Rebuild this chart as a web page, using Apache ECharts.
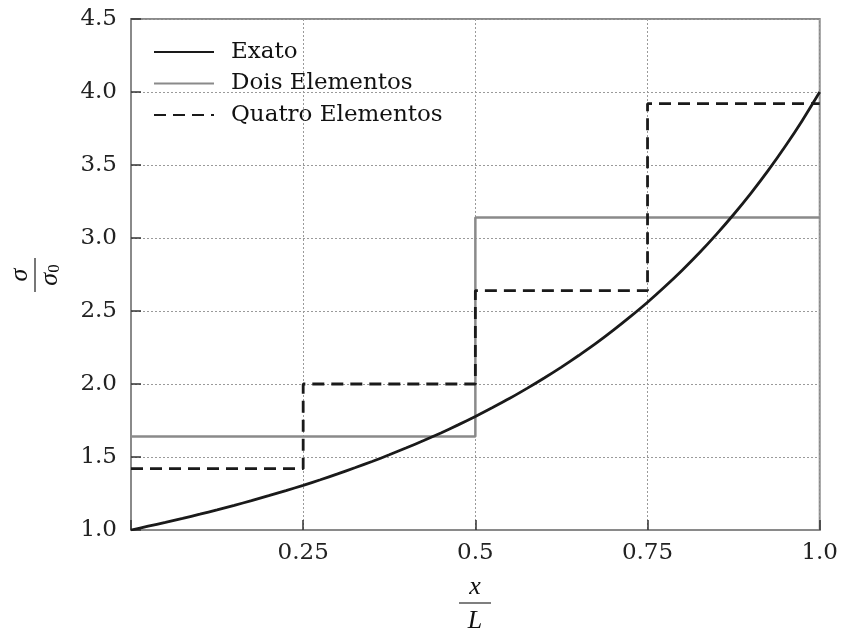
<!DOCTYPE html>
<html>
<head>
<meta charset="utf-8">
<script src="https://cdn.jsdelivr.net/npm/echarts@6/dist/echarts.min.js"></script>
<style>
  html, body { margin: 0; padding: 0; background: #fff; }
  #chart { width: 841px; height: 633px; }
</style>
</head>
<body>
<div id="chart"></div>
<script>
// Exact stress distribution along the bar, sigma/sigma0 versus x/L
const exactX = [0, 0.025, 0.05, 0.075, 0.1, 0.125, 0.15, 0.175, 0.2, 0.225, 0.25,
                0.275, 0.3, 0.325, 0.35, 0.375, 0.4, 0.425, 0.45, 0.475, 0.5,
                0.525, 0.55, 0.575, 0.6, 0.625, 0.65, 0.675, 0.7, 0.725, 0.75,
                0.775, 0.8, 0.825, 0.85, 0.875, 0.9, 0.925, 0.95, 0.975, 1.0];
const exactY = [1.000, 1.026, 1.052, 1.079, 1.108, 1.138, 1.169, 1.201, 1.235, 1.270, 1.306,
                1.344, 1.384, 1.426, 1.469, 1.515, 1.563, 1.613, 1.665, 1.720, 1.778,
                1.839, 1.902, 1.970, 2.041, 2.116, 2.195, 2.278, 2.367, 2.461, 2.560,
                2.666, 2.778, 2.897, 3.025, 3.161, 3.306, 3.461, 3.628, 3.807, 4.000];

// Element boundaries and constant stress per element
const twoEdges = [0, 0.5, 1.0];
const twoStress = [1.64, 3.14];
const fourEdges = [0, 0.25, 0.5, 0.75, 1.0];
const fourStress = [1.42, 2.00, 2.64, 3.92];

const yTicks = [1.0, 1.5, 2.0, 2.5, 3.0, 3.5, 4.0, 4.5];
const xTickLabels = { 0.25: '0.25', 0.5: '0.5', 0.75: '0.75', 1: '1.0' };

const seriesNames = ['Exato', 'Dois Elementos', 'Quatro Elementos'];

// piecewise-constant path: horizontal run on each element, vertical jump between
function stepPath(edges, levels) {
  const pts = [];
  for (let i = 0; i < levels.length; i++) {
    pts.push([edges[i], levels[i]]);
    pts.push([edges[i + 1], levels[i]]);
  }
  return pts;
}

const exactData = exactX.map((x, i) => [x, exactY[i]]);

const serif = '"DejaVu Serif", "Liberation Serif", serif';
const chart = echarts.init(document.getElementById('chart'), null, { renderer: 'canvas' });

chart.setOption({
  backgroundColor: '#fff',
  animation: false,
  grid: {
    left: 131, right: 20, top: 19, bottom: 103,
    show: true, borderColor: '#8a8a8a', borderWidth: 2, backgroundColor: 'transparent'
  },
  legend: {
    left: 148, top: 35,
    orient: 'vertical',
    itemWidth: 60, itemHeight: 14, itemGap: 7.5,
    itemStyle: { opacity: 0 },
    textStyle: { fontFamily: serif, fontSize: 23, lineHeight: 24, color: '#111', padding: [0, 0, 0, 12] },
    data: seriesNames
  },
  xAxis: {
    type: 'value', min: 0, max: 1, interval: 0.25,
    axisLine: { show: true, lineStyle: { color: '#8a8a8a', width: 2 } },
    axisTick: { show: true, inside: true, length: 10, lineStyle: { color: '#333', width: 1.5 } },
    axisLabel: {
      margin: 12, fontFamily: serif, fontSize: 23, color: '#222',
      formatter: v => xTickLabels[v] || ''
    },
    splitLine: { show: true, lineStyle: { color: '#9a9a9a', width: 1, type: [2, 2] } }
  },
  yAxis: {
    type: 'value', min: yTicks[0], max: yTicks[yTicks.length - 1], interval: 0.5,
    axisLine: { show: true, lineStyle: { color: '#8a8a8a', width: 2 } },
    axisTick: { show: true, inside: true, length: 10, lineStyle: { color: '#333', width: 1.5 } },
    axisLabel: {
      margin: 14, fontFamily: serif, fontSize: 23, color: '#222',
      formatter: v => v.toFixed(1)
    },
    splitLine: { show: true, lineStyle: { color: '#9a9a9a', width: 1, type: [2, 2] } }
  },
  series: [
    {
      name: seriesNames[0], type: 'line', data: exactData,
      smooth: 0.2, symbol: 'none', z: 5,
      lineStyle: { color: '#1a1a1a', width: 2.8 },
      itemStyle: { color: '#1a1a1a' }
    },
    {
      name: seriesNames[1], type: 'line', data: stepPath(twoEdges, twoStress),
      symbol: 'none', z: 3,
      lineStyle: { color: '#8a8a8a', width: 2.5 },
      itemStyle: { color: '#8a8a8a' }
    },
    {
      name: seriesNames[2], type: 'line', data: stepPath(fourEdges, fourStress),
      symbol: 'none', z: 4,
      lineStyle: { color: '#1a1a1a', width: 2.8, type: [12, 7] },
      itemStyle: { color: '#1a1a1a' }
    }
  ],
  graphic: [
    {
      // y-axis title: sigma over sigma_0, rotated
      type: 'group', x: 35, y: 275, rotation: Math.PI / 2,
      children: [
        { type: 'text', x: 0, y: -15, style: {
            text: 'σ', font: 'italic 26px "Liberation Serif", serif', fill: '#111',
            align: 'center', verticalAlign: 'middle' } },
        { type: 'line', shape: { x1: -17, y1: 0, x2: 17, y2: 0 },
          style: { stroke: '#777', lineWidth: 2 } },
        { type: 'text', x: 0, y: 15, style: {
            text: '{s|σ}{sub|0}', fill: '#111', align: 'center', verticalAlign: 'middle',
            rich: {
              s: { font: 'italic 26px "Liberation Serif", serif', fill: '#111' },
              sub: { font: '17px "Liberation Serif", serif', fill: '#111', padding: [10, 0, 0, 0] }
            } } }
      ]
    },
    {
      // x-axis title: x over L
      type: 'group', x: 475, y: 603,
      children: [
        { type: 'text', x: 0, y: -16, style: {
            text: 'x', font: 'italic 26px "Liberation Serif", serif', fill: '#111',
            align: 'center', verticalAlign: 'middle' } },
        { type: 'line', shape: { x1: -16, y1: 0, x2: 16, y2: 0 },
          style: { stroke: '#555', lineWidth: 1.5 } },
        { type: 'text', x: 0, y: 18, style: {
            text: 'L', font: 'italic 26px "Liberation Serif", serif', fill: '#111',
            align: 'center', verticalAlign: 'middle' } }
      ]
    }
  ]
});
</script>
</body>
</html>
